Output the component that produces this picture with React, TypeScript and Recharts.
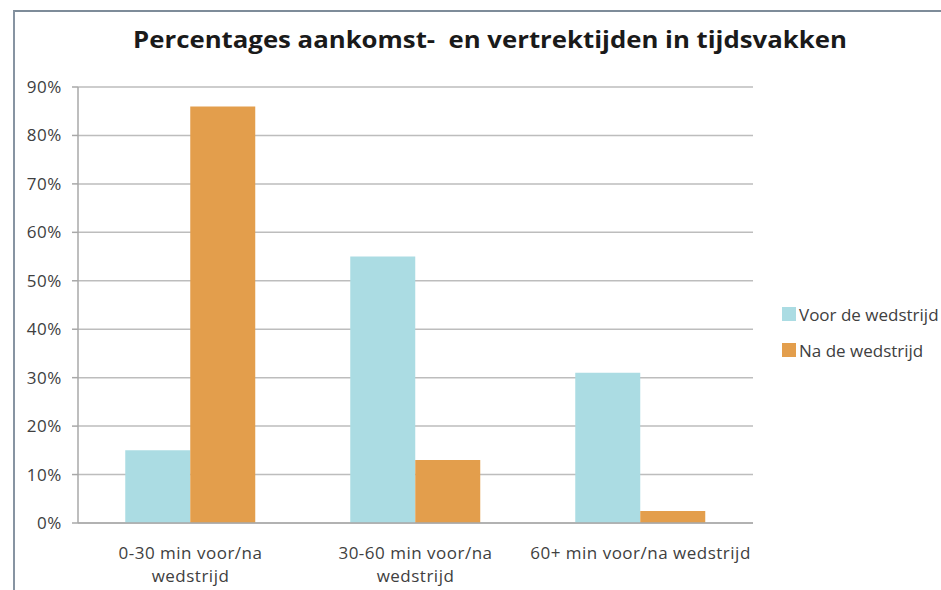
import React from "react";
import { BarChart, Bar, XAxis, YAxis, CartesianGrid } from "recharts";

const categories = [
  "0-30 min voor/na wedstrijd",
  "30-60 min voor/na wedstrijd",
  "60+ min voor/na wedstrijd",
];
const voorValues = [15, 55, 31];
const naValues = [86, 13, 2.5];
const yTicks = [0, 10, 20, 30, 40, 50, 60, 70, 80, 90];
const seriesNames = ["Voor de wedstrijd", "Na de wedstrijd"];
const colors = ["#ABDCE3", "#E39E4C"];
const title = "Percentages aankomst-  en vertrektijden in tijdsvakken";

const data = categories.map((c, i) => ({
  name: c,
  voor: voorValues[i],
  na: naValues[i],
}));

const FONT = "'Open Sans', Lato, sans-serif";

function wrapLabel(s: string): string[] {
  if (s.length <= 25) return [s];
  const idx = s.lastIndexOf(" ");
  return [s.slice(0, idx), s.slice(idx + 1)];
}

const XTick = (props: any) => {
  const { x, y, payload } = props;
  const lines = wrapLabel(String(payload.value));
  return (
    <g>
      {lines.map((l, i) => (
        <text
          key={i}
          x={x}
          y={y + 28 + i * 23}
          textAnchor="middle"
          fill="#404040"
          fontSize={17}
          letterSpacing={0.5}
          fontFamily={FONT}
        >
          {l}
        </text>
      ))}
    </g>
  );
};

const LegendBox = () => (
  <div
    style={{
      position: "absolute",
      left: 782,
      top: 296,
      fontFamily: FONT,
      fontSize: 17,
      color: "#404040",
    }}
  >
    {seriesNames.map((n, i) => (
      <div
        key={n}
        style={{ display: "flex", alignItems: "center", height: 36, whiteSpace: "nowrap" }}
      >
        <span
          style={{
            display: "inline-block",
            width: 14,
            height: 14,
            background: colors[i],
            marginRight: 3,
          }}
        />
        <span>{n}</span>
      </div>
    ))}
  </div>
);

export default function App() {
  return (
    <div
      style={{
        position: "absolute",
        left: 0,
        top: 0,
        width: 941,
        height: 590,
        background: "#fff",
        overflow: "hidden",
      }}
    >
      <div
        style={{
          position: "absolute",
          left: 13,
          top: 10,
          width: 1000,
          height: 700,
          borderTop: "2px solid #7E8C99",
          borderLeft: "2px solid #8794A2",
        }}
      />
      <div
        style={{
          position: "absolute",
          left: 0,
          top: 24,
          width: 980,
          textAlign: "center",
          fontFamily: FONT,
          fontWeight: 700,
          fontSize: 23,
          lineHeight: "31px",
          color: "#1a1a1a",
          whiteSpace: "pre",
          transform: "scaleX(1.12)",
          transformOrigin: "490px 50%",
        }}
      >
        {title}
      </div>
      <div style={{ position: "absolute", left: 0, top: 0 }}>
        <BarChart
          width={941}
          height={590}
          data={data}
          margin={{ top: 87, right: 188, bottom: 7, left: 18 }}
          barCategoryGap="21%"
          barGap={0}
        >
          <CartesianGrid vertical={false} stroke="#BDBDBD" strokeWidth={1.5} />
          <XAxis
            dataKey="name"
            xAxisId="cat"
            height={60}
            tick={<XTick />}
            tickLine={false}
            axisLine={{ stroke: "#A8A8A8", strokeWidth: 1.5 }}
            interval={0}
          />
          <XAxis
            xAxisId="edges"
            type="number"
            domain={[0, 3]}
            ticks={[0, 1, 2, 3]}
            height={0}
            tick={false}
            axisLine={false}
            tickSize={7}
            tickLine={{ stroke: "#A8A8A8", strokeWidth: 1.5 }}
          />
          <YAxis
            width={60}
            domain={[0, 90]}
            ticks={yTicks}
            interval={0}
            tickFormatter={(v: number) => `${v}%`}
            tick={{ fill: "#404040", fontSize: 17, fontFamily: FONT, letterSpacing: 0.6 }}
            tickSize={6}
            tickMargin={10}
            axisLine={{ stroke: "#A8A8A8", strokeWidth: 1.5 }}
            tickLine={{ stroke: "#A8A8A8", strokeWidth: 1.5 }}
          />
          <Bar
            xAxisId="cat"
            dataKey="voor"
            name={seriesNames[0]}
            fill={colors[0]}
            isAnimationActive={false}
          />
          <Bar
            xAxisId="cat"
            dataKey="na"
            name={seriesNames[1]}
            fill={colors[1]}
            isAnimationActive={false}
          />
        </BarChart>
      </div>
      <LegendBox />
    </div>
  );
}
